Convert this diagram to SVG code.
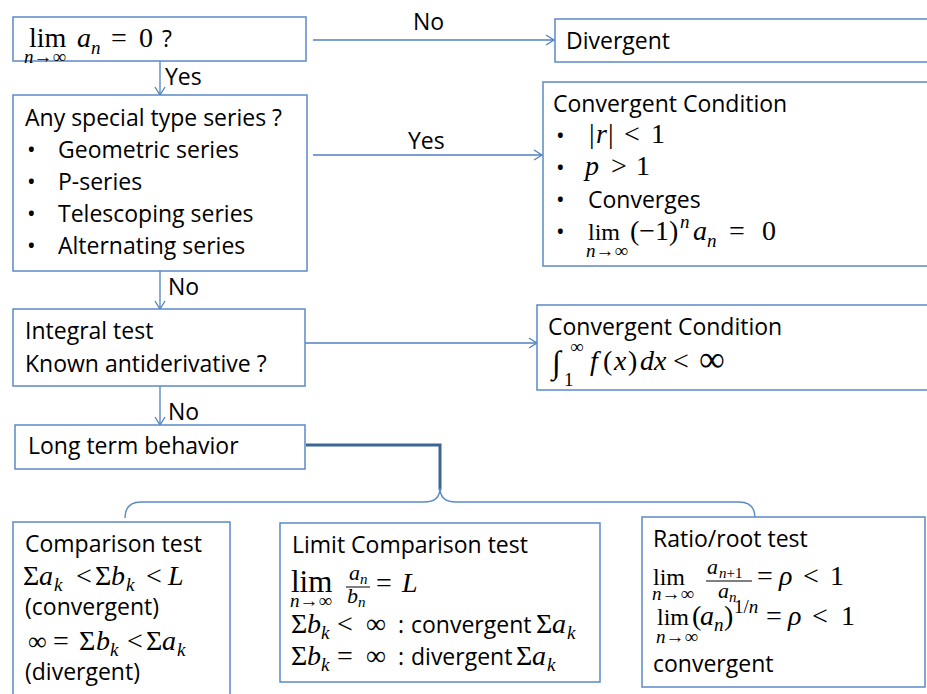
<svg xmlns="http://www.w3.org/2000/svg" width="927" height="694" viewBox="0 0 927 694">
<defs>
<style>
.box{fill:#fff;stroke:#5B8AC7;stroke-width:1.5}
.t{font-family:"Open Sans","Liberation Sans",sans-serif;font-size:23px;fill:#000}
.m{font-family:"Liberation Serif",serif;font-size:28px;fill:#000}
.i{font-style:italic}
.s{font-size:19px}
.ss{font-size:15px}
.ln{fill:none;stroke:#4F7FC0;stroke-width:1.3}
.br{fill:none;stroke:#5B8AC7;stroke-width:1.5}
.thick{fill:none;stroke:#3C6494;stroke-width:3}
.bar{stroke:#000;stroke-width:1}
</style>
<marker id="ah" markerUnits="userSpaceOnUse" markerWidth="12" markerHeight="12" refX="10" refY="6" orient="auto"><path d="M2,1 L10,6 L2,11" fill="none" stroke="#4F7FC0" stroke-width="1.3"/></marker>
</defs>
<rect width="927" height="694" fill="#fff"/>

<g id="connectors">
<path class="ln" d="M313,40 H554" marker-end="url(#ah)"/>
<path class="ln" d="M160,61 V95" marker-end="url(#ah)"/>
<path class="ln" d="M313,155 H542" marker-end="url(#ah)"/>
<path class="ln" d="M160,271 V309" marker-end="url(#ah)"/>
<path class="ln" d="M305,343 H537" marker-end="url(#ah)"/>
<path class="ln" d="M160,386 V425" marker-end="url(#ah)"/>
<path class="thick" d="M306,445 H440 V490"/>
<path class="br" d="M125,518 Q125,502 141,502 H424 Q440,502 440,488 Q440,502 456,502 H739 Q755,502 755,518"/>
<text class="t" x="413" y="30">No</text>
<text class="t" x="165" y="85">Yes</text>
<text class="t" x="408" y="149">Yes</text>
<text class="t" x="168" y="295">No</text>
<text class="t" x="168" y="420">No</text>
</g>

<g id="n1">
<rect class="box" x="13" y="17" width="293" height="44"/>
<text class="m" y="47"><tspan x="29">lim</tspan><tspan x="24" y="63" class="s"><tspan class="i">n</tspan>→∞</tspan><tspan x="77" y="47" class="i">a</tspan><tspan x="91" y="54" class="s i">n</tspan><tspan x="111" y="47">=</tspan><tspan x="139">0</tspan></text>
<text class="t" x="162" y="47">?</text>
</g>

<g id="n2">
<rect class="box" x="555" y="19" width="380" height="43"/>
<text class="t" x="566" y="49">Divergent</text>
</g>

<g id="n3">
<rect class="box" x="13" y="95" width="294" height="176"/>
<text class="t" x="25" y="126">Any special type series ?</text>
<text class="t" x="27" y="158">•<tspan x="58">Geometric series</tspan></text>
<text class="t" x="27" y="190">•<tspan x="58">P-series</tspan></text>
<text class="t" x="27" y="222">•<tspan x="58">Telescoping series</tspan></text>
<text class="t" x="27" y="254">•<tspan x="58">Alternating series</tspan></text>
</g>

<g id="n4">
<rect class="box" x="543" y="82" width="392" height="184"/>
<text class="t" x="553" y="112">Convergent Condition</text>
<text class="t" x="556" y="144">•</text>
<text class="t" x="556" y="176">•</text>
<text class="t" x="556" y="208">•<tspan x="588">Converges</tspan></text>
<text class="t" x="556" y="240">•</text>
<text class="m" y="143"><tspan x="589">|</tspan><tspan x="596" class="i">r</tspan><tspan x="608">|</tspan><tspan x="624">&lt;</tspan><tspan x="651">1</tspan></text>
<text class="m" y="175"><tspan x="585" class="i">p</tspan><tspan x="611">&gt;</tspan><tspan x="636">1</tspan></text>
<text class="m" y="240"><tspan x="588" style="font-size:24px">lim</tspan><tspan x="586" y="257" class="s"><tspan class="i">n</tspan>→∞</tspan><tspan x="630" y="240">(−1)</tspan><tspan x="680" y="228" class="s i">n</tspan><tspan x="693" y="240" class="i">a</tspan><tspan x="707" y="247" class="s i">n</tspan><tspan x="729" y="240">=</tspan><tspan x="762">0</tspan></text>
</g>

<g id="n5">
<rect class="box" x="13" y="309" width="292" height="77"/>
<text class="t" x="25" y="339">Integral test</text>
<text class="t" x="25" y="372">Known antiderivative ?</text>
</g>

<g id="n6">
<rect class="box" x="537" y="305" width="400" height="85"/>
<text class="t" x="548" y="335">Convergent Condition</text>
<text class="m" y="373"><tspan x="552" style="font-size:32px">∫</tspan><tspan x="570" y="353" class="s">∞</tspan><tspan x="564" y="386" class="s">1</tspan><tspan x="590" y="370" class="i">f</tspan><tspan x="603">(</tspan><tspan x="614" class="i">x</tspan><tspan x="628">)</tspan><tspan x="640" class="i">d</tspan><tspan x="654" class="i">x</tspan><tspan x="673">&lt;</tspan><tspan x="699" y="371" style="font-size:36px">∞</tspan></text>
</g>

<g id="n7">
<rect class="box" x="15" y="425" width="290" height="44"/>
<text class="t" x="28" y="454">Long term behavior</text>
</g>

<g id="n8">
<rect class="box" x="13" y="522" width="217" height="190"/>
<text class="t" x="25" y="552">Comparison test</text>
<text class="m" y="585"><tspan x="23">Σ</tspan><tspan x="39" class="i">a</tspan><tspan x="54" y="591" class="s i">k</tspan><tspan x="76" y="585">&lt;</tspan><tspan x="95">Σ</tspan><tspan x="111" class="i">b</tspan><tspan x="126" y="591" class="s i">k</tspan><tspan x="146" y="585">&lt;</tspan><tspan x="168" class="i">L</tspan></text>
<text class="t" x="25" y="615">(convergent)</text>
<text class="m" y="650"><tspan x="28" style="font-size:26px">∞</tspan><tspan x="53">=</tspan><tspan x="79">Σ</tspan><tspan x="96" class="i">b</tspan><tspan x="110" y="656" class="s i">k</tspan><tspan x="127" y="650">&lt;</tspan><tspan x="146">Σ</tspan><tspan x="162" class="i">a</tspan><tspan x="177" y="656" class="s i">k</tspan></text>
<text class="t" x="25" y="680">(divergent)</text>
</g>

<g id="n9">
<rect class="box" x="280" y="523" width="320" height="159"/>
<text class="t" x="292" y="553">Limit Comparison test</text>
<text class="m" y="592"><tspan x="291" style="font-size:31px">lim</tspan><tspan x="290" y="607" class="s"><tspan class="i">n</tspan>→∞</tspan><tspan x="349" y="580" class="i" style="font-size:22px">a</tspan><tspan x="360" y="584" class="ss i">n</tspan><tspan x="347" y="603" class="i" style="font-size:22px">b</tspan><tspan x="358" y="607" class="ss i">n</tspan><tspan x="376" y="592">=</tspan><tspan x="402" class="i">L</tspan></text>
<line class="bar" x1="346" y1="587" x2="370" y2="587"/>
<text class="m" y="633"><tspan x="291">Σ</tspan><tspan x="307" class="i">b</tspan><tspan x="321" y="639" class="s i">k</tspan><tspan x="337" y="633">&lt;</tspan><tspan x="366">∞</tspan><tspan x="536">Σ</tspan><tspan x="552" class="i">a</tspan><tspan x="567" y="639" class="s i">k</tspan></text>
<text class="t" x="398" y="633">:<tspan x="411">convergent</tspan></text>
<text class="m" y="665"><tspan x="291">Σ</tspan><tspan x="307" class="i">b</tspan><tspan x="321" y="671" class="s i">k</tspan><tspan x="337" y="665">=</tspan><tspan x="366">∞</tspan><tspan x="516">Σ</tspan><tspan x="532" class="i">a</tspan><tspan x="547" y="671" class="s i">k</tspan></text>
<text class="t" x="398" y="665">:<tspan x="411">divergent</tspan></text>
</g>

<g id="n10">
<rect class="box" x="642" y="517" width="283" height="170"/>
<text class="t" x="653" y="547">Ratio/root test</text>
<text class="m" y="585"><tspan x="653" style="font-size:24px">lim</tspan><tspan x="652" y="600" class="s"><tspan class="i">n</tspan>→∞</tspan><tspan x="707" y="574" class="i" style="font-size:22px">a</tspan><tspan x="719" y="578" class="ss"><tspan class="i">n</tspan>+1</tspan><tspan x="718" y="598" class="i" style="font-size:22px">a</tspan><tspan x="729" y="602" class="ss i">n</tspan><tspan x="757" y="585">=</tspan><tspan x="779" class="i">ρ</tspan><tspan x="803">&lt;</tspan><tspan x="830">1</tspan></text>
<line class="bar" x1="706" y1="581" x2="752" y2="581"/>
<text class="m" y="625"><tspan x="657" style="font-size:24px">lim</tspan><tspan x="656" y="643" class="s"><tspan class="i">n</tspan>→∞</tspan><tspan x="692" y="625">(</tspan><tspan x="700" class="i">a</tspan><tspan x="714" y="631" class="s i">n</tspan><tspan x="724" y="625">)</tspan><tspan x="734" y="613" class="s">1/<tspan class="i">n</tspan></tspan><tspan x="766" y="625">=</tspan><tspan x="788" class="i">ρ</tspan><tspan x="812">&lt;</tspan><tspan x="841">1</tspan></text>
<text class="t" x="653" y="672">convergent</text>
</g>
</svg>
